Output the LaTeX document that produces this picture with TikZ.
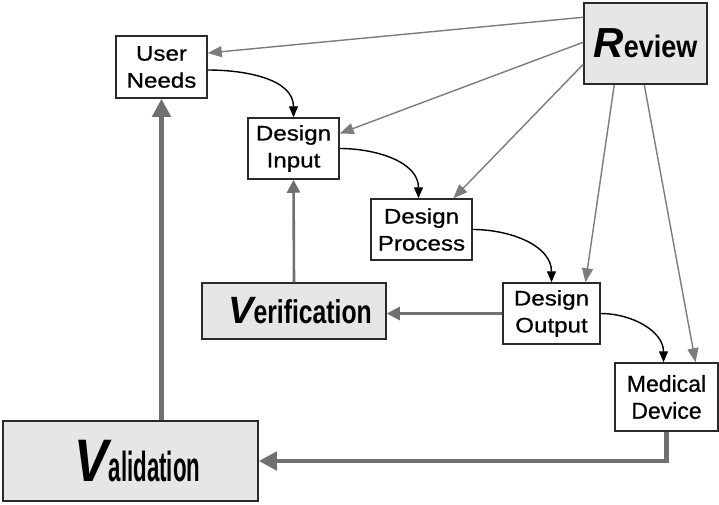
\documentclass[tikz,border=0pt]{standalone}
\usepackage{fontspec}
\usepackage{graphicx}
\setmainfont{Liberation Sans}
\newfontfamily\boxfont[FakeStretch=1.15,FakeBold=0.8]{Liberation Sans}
\newfontfamily\mdfont[FakeBold=0.8]{Liberation Sans}
\usetikzlibrary{arrows.meta}
\definecolor{boxfill}{HTML}{E6E6E6}
\definecolor{thickgray}{HTML}{707070}
\definecolor{revgray}{HTML}{7C7C7C}
\definecolor{border}{HTML}{2A2A2A}
\tikzset{
  plainbox/.style={draw=border, line width=1.5pt, fill=white, inner sep=0pt, align=center,
    font=\boxfont\fontsize{21}{27}\selectfont},
  bigbox/.style={draw=border, line width=1.5pt, fill=boxfill, inner sep=0pt, align=center},
  revarrow/.style={draw=revgray, line width=1.4pt, -{Triangle[length=14pt,width=11pt]}},
  curvarrow/.style={draw=black, line width=1.4pt, -{Triangle[length=11pt,width=9pt]}},
  medarrow/.style={draw=thickgray, line width=2.6pt, -{Triangle[length=13pt,width=13pt]}},
  fatarrow/.style={draw=thickgray, line width=4.5pt, -{Triangle[length=18pt,width=18pt]}}
}
\begin{document}
\begin{tikzpicture}[x=1pt,y=-1pt]
\useasboundingbox[fill=white] (0,0) rectangle (719,504);

\node[plainbox, minimum width=91pt, minimum height=62pt] (UN) at (161.5,67) {User\\Needs};
\node[plainbox, minimum width=91pt, minimum height=61pt] (DI) at (293.5,148.5) {Design\\Input};
\node[plainbox, minimum width=101pt, minimum height=61pt] (DP) at (421.5,229.5) {Design\\Process};
\node[plainbox, minimum width=97pt, minimum height=61pt] (DO) at (551.5,313.5) {Design\\Output};
\node[plainbox, minimum width=103pt, minimum height=68pt, font=\mdfont\fontsize{23}{27}\selectfont] (MD) at (666.5,397) {Medical\\Device};

\node[bigbox, minimum width=123pt, minimum height=81pt] (RV) at (645.5,43.5)
  {{\fontsize{42}{42}\selectfont\bfseries\itshape R}{\fontsize{31}{31}\selectfont\bfseries\scalebox{0.87}[1]{eview}}};
\node[bigbox, minimum width=184pt, minimum height=56pt] (VE) at (294,311)
  {\hspace*{12pt}{\fontsize{38}{38}\selectfont\bfseries\itshape V}{\fontsize{33}{33}\selectfont\bfseries\scalebox{0.75}[1]{erification}}};
\node[bigbox, minimum width=255pt, minimum height=80pt] (VA) at (130.5,461)
  {\hspace*{14pt}\scalebox{0.85}[1]{\fontsize{60}{60}\selectfont\bfseries\itshape V}{\fontsize{42}{42}\selectfont\bfseries\scalebox{0.53}[1]{alidation}}};

% Review arrows
\draw[revarrow] ([yshift=-15pt]RV.north west) -- ([yshift=14pt]UN.east);
\draw[revarrow] ([yshift=-40pt]RV.north west) -- ([yshift=15pt]DI.east);
\draw[revarrow] ([yshift=-62pt]RV.north west) -- ([xshift=32pt]DP.north);
\draw[revarrow] ([xshift=31pt]RV.south west) -- ([xshift=34pt]DO.north);
\draw[revarrow] ([xshift=61pt]RV.south west) -- ([xshift=29pt]MD.north);

% black flow curves
\draw[curvarrow] ([yshift=-3pt]UN.east) to[out=0,in=90] (DI.north);
\draw[curvarrow] (DI.east) to[out=0,in=90] ([xshift=-3pt]DP.north);
\draw[curvarrow] (DP.east) to[out=0,in=90] (DO.north);
\draw[curvarrow] (DO.east) to[out=0,in=90] ([xshift=-3pt]MD.north);

% verification / validation
\draw[medarrow] (VE.north) -- (DI.south);
\draw[medarrow] (DO.west) -- (DO.west -| VE.east);
\draw[fatarrow] (UN.south |- VA.north) -- (UN.south);
\draw[fatarrow] (MD.south) |- (VA.east);
\end{tikzpicture}
\end{document}
